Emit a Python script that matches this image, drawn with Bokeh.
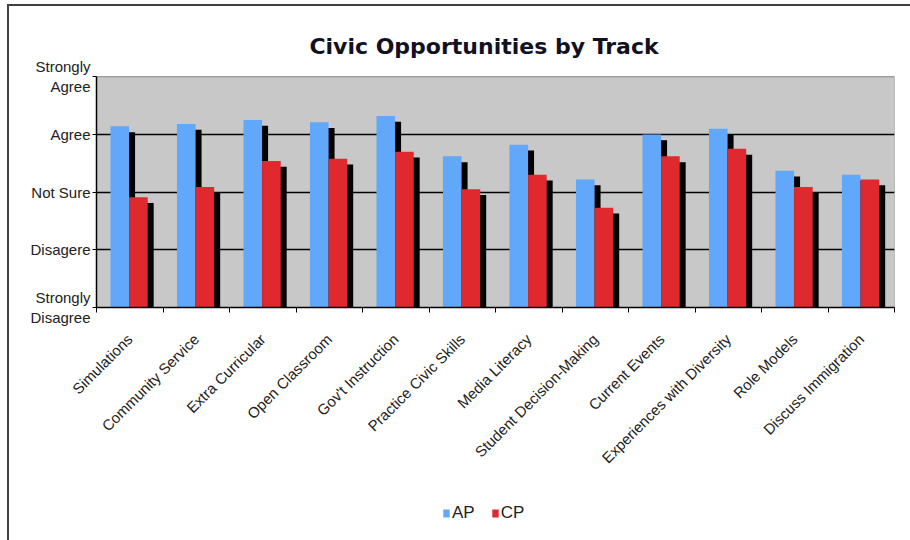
import math
import numpy as np
from bokeh.plotting import figure
from bokeh.layouts import column
from bokeh.models import Range1d, FixedTicker, Legend, LegendItem, Label
from bokeh.embed import file_html
from bokeh.resources import INLINE

categories = ["Simulations", "Community Service", "Extra Curricular", "Open Classroom",
              "Gov't Instruction", "Practice Civic Skills", "Media Literacy",
              "Student Decision-Making", "Current Events", "Experiences with Diversity",
              "Role Models", "Discuss Immigration"]
ap_values = [4.14, 4.18, 4.25, 4.21, 4.32, 3.62, 3.82, 3.22, 4.00, 4.10, 3.37, 3.30]
cp_values = [2.91, 3.09, 3.54, 3.58, 3.70, 3.05, 3.30, 2.73, 3.62, 3.75, 3.09, 3.22]
series_names = ["AP", "CP"]
y_ticks = [1, 2, 3, 4, 5]
y_tick_labels = ["Strongly\nDisagree", "Disagere", "Not Sure", "Agree", "Strongly\nAgree"]
title_text = "Civic Opportunities by Track"

BLUE = "#62A8FA"
RED = "#E0282F"
GREY = "#C8C8C8"
LABEL_FONT = "Liberation Sans"

# layout (pixels): grey plot area from y=77 to y=310, x=96 to x=894
TOP_PX, AREA_PX = 77, 233
MAIN_H, LEG_H = 475, 65
y_lo, y_hi = y_ticks[0], y_ticks[-1]
units_per_px = (y_hi - y_lo) / AREA_PX
y_top = y_hi + TOP_PX * units_per_px

p = figure(width=910, height=MAIN_H, output_backend="svg", toolbar_location=None,
           x_range=Range1d(0, len(categories)), y_range=Range1d(y_lo, y_top),
           min_border_left=96, min_border_right=16, min_border_top=0,
           min_border_bottom=MAIN_H - 310)
p.title = None
# outer frame lines (left and top) drawn as the page background behind a transparent canvas
p.styles = {
    "background-color": "white",
    "background-image": "linear-gradient(#404040, #404040), linear-gradient(#404040, #404040)",
    "background-size": "2px 100%, 100% 2px",
    "background-position": "7px 4px, 7px 4px",
    "background-repeat": "no-repeat",
}
p.border_fill_alpha = 0
p.background_fill_alpha = 0
p.outline_line_color = None

# grey plot area
p.quad(left=0, right=len(categories), bottom=y_lo, top=y_hi, fill_color=GREY,
       line_color="#808080", line_width=1, level="image")

idx = np.arange(len(categories))
ap_x = idx + 0.35
cp_x = idx + 0.63
bw = 0.28
sh_dx = 0.09
sh_dy = 0.1

p.vbar(x=ap_x + sh_dx, top=np.array(ap_values) - sh_dy, bottom=y_lo, width=bw,
       fill_color="black", line_color=None)
p.vbar(x=ap_x, top=ap_values, bottom=y_lo, width=bw, fill_color=BLUE, line_color=None)
p.vbar(x=cp_x + sh_dx, top=np.array(cp_values) - sh_dy, bottom=y_lo, width=bw,
       fill_color="black", line_color=None)
p.vbar(x=cp_x, top=cp_values, bottom=y_lo, width=bw, fill_color=RED, line_color=None)

# x axis
centers = [i + 0.5 for i in range(len(categories))]
p.xaxis.ticker = FixedTicker(ticks=centers, minor_ticks=list(range(len(categories) + 1)))
p.xaxis.major_label_overrides = {c: name for c, name in zip(centers, categories)}
p.xaxis.major_label_orientation = math.pi / 4
p.xaxis.major_tick_out = 0
p.xaxis.major_tick_in = 0
p.xaxis.minor_tick_out = 5
p.xaxis.minor_tick_in = 0
p.xaxis.minor_tick_line_color = "black"
p.xaxis.axis_line_color = "black"
p.xaxis.axis_line_width = 1.5
p.xaxis.major_label_text_font = LABEL_FONT
p.xaxis.major_label_text_font_size = "15px"
p.xaxis.major_label_text_color = "#222222"
p.xaxis.major_label_standoff = 24
p.xgrid.grid_line_color = None

# y axis
p.yaxis.ticker = FixedTicker(ticks=y_ticks)
p.yaxis.bounds = (y_lo, y_hi)
p.yaxis.major_label_overrides = {t: lab for t, lab in zip(y_ticks, y_tick_labels)}
p.yaxis.major_tick_out = 4
p.yaxis.major_tick_in = 0
p.yaxis.minor_tick_line_color = None
p.yaxis.axis_line_color = "black"
p.yaxis.axis_line_width = 1.5
p.yaxis.major_tick_line_color = "black"
p.yaxis.major_label_text_font = LABEL_FONT
p.yaxis.major_label_text_font_size = "15px"
p.yaxis.major_label_text_color = "#222222"
p.yaxis.major_label_text_baseline = "top"
p.yaxis.major_label_standoff = 2
p.ygrid.ticker = FixedTicker(ticks=y_ticks[1:-1])
p.ygrid.grid_line_color = "black"
p.ygrid.grid_line_width = 1.5

# title, inside the (extended) frame above the grey plot area
p.add_layout(Label(x=(483.5 - 96) / 66.5, y=y_hi + 31 * units_per_px,
                   text=title_text, text_align="center", text_baseline="alphabetic",
                   text_font="DejaVu Sans", text_font_style="bold", text_font_size="22px",
                   text_color="#111122"))

# legend strip (separate figure below the chart)
q = figure(width=910, height=LEG_H, output_backend="svg", toolbar_location=None,
           x_range=Range1d(0, len(categories)), y_range=Range1d(100, 101),
           min_border_left=0, min_border_right=0, min_border_top=0, min_border_bottom=0,
           x_axis_location=None, y_axis_location=None)
q.title = None
q.styles = {
    "background-color": "white",
    "background-image": "linear-gradient(#404040, #404040)",
    "background-size": "2px 100%",
    "background-position": "7px 0px",
    "background-repeat": "no-repeat",
}
q.border_fill_alpha = 0
q.background_fill_alpha = 0
q.outline_line_color = None
q.xgrid.grid_line_color = None
q.ygrid.grid_line_color = None
lr_ap = q.vbar(x=ap_x, top=ap_values, bottom=y_lo, width=bw, fill_color=BLUE, line_color=None)
lr_cp = q.vbar(x=cp_x, top=cp_values, bottom=y_lo, width=bw, fill_color=RED, line_color=None)

legend = Legend(items=[LegendItem(label=series_names[0], renderers=[lr_ap]),
                       LegendItem(label=series_names[1], renderers=[lr_cp])],
                orientation="horizontal", location=(346, 17))
legend.glyph_width = 8
legend.glyph_height = 10
legend.label_standoff = 2
legend.spacing = 16
legend.padding = 0
legend.margin = 0
legend.border_line_color = None
legend.background_fill_alpha = 0
legend.label_text_font = LABEL_FONT
legend.label_text_font_size = "17px"
legend.label_text_color = "#222222"
q.add_layout(legend, "center")

layout = column(p, q, spacing=0)
open("out.html", "w").write(file_html(layout, INLINE))
